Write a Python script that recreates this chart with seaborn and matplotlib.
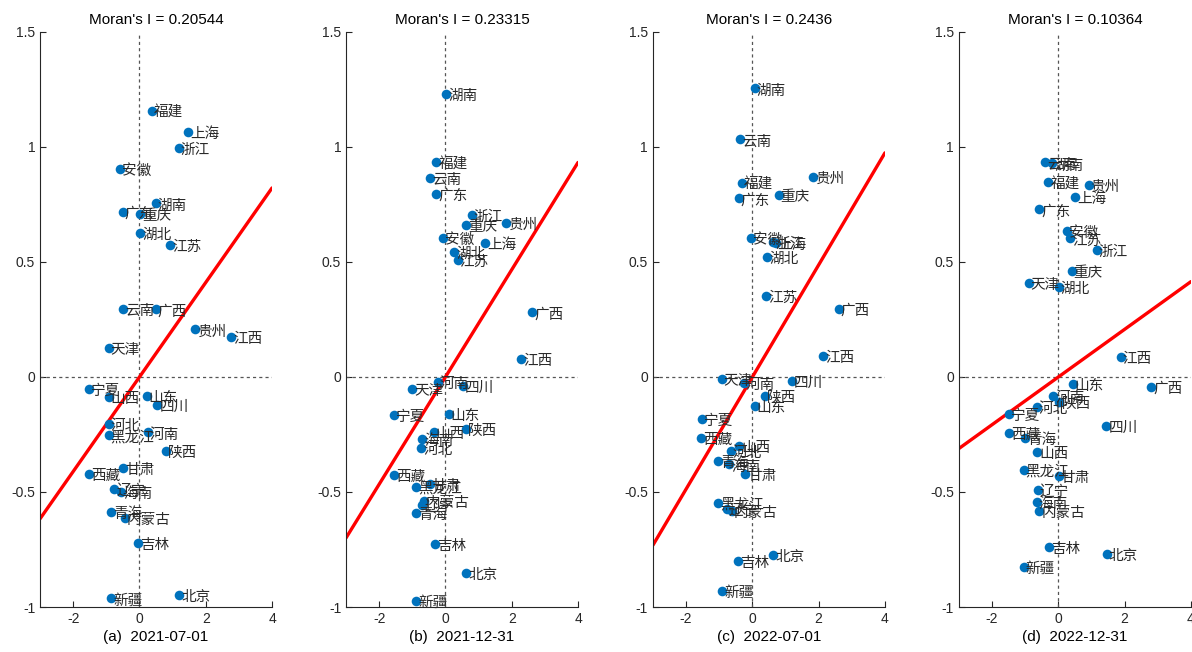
import numpy as np
import matplotlib
matplotlib.use("Agg")
import matplotlib.pyplot as plt
import seaborn as sns

# province order shared by all four panels
provinces = ['北京', '天津', '河北', '山西', '内蒙古', '辽宁', '吉林', '黑龙江', '上海', '江苏',
             '浙江', '安徽', '福建', '江西', '山东', '河南', '湖北', '湖南', '广东', '广西',
             '海南', '重庆', '四川', '贵州', '云南', '西藏', '陕西', '甘肃', '青海', '宁夏', '新疆']

dates = ['2021-07-01', '2021-12-31', '2022-07-01', '2022-12-31']
panel_tags = ['(a)', '(b)', '(c)', '(d)']
moran_i = [0.20544, 0.23315, 0.2436, 0.10364]

# standardized value (x) and spatial lag (y)
x_a = [1.19, -0.93, -0.93, -0.93, -0.45, -0.76, -0.05, -0.93, 1.47, 0.92,
       1.19, -0.60, 0.38, 2.77, 0.22, 0.25, 0.02, 0.49, -0.51, 0.49,
       -0.55, 0.02, 0.54, 1.68, -0.50, -1.52, 0.80, -0.50, -0.86, -1.52, -0.86]
y_a = [-0.946, 0.126, -0.204, -0.087, -0.612, -0.487, -0.723, -0.254, 1.067, 0.575,
       0.997, 0.904, 1.157, 0.173, -0.084, -0.241, 0.627, 0.755, 0.719, 0.294,
       -0.501, 0.707, -0.122, 0.207, 0.296, -0.420, -0.320, -0.396, -0.588, -0.052, -0.962]

x_b = [0.62, -1.00, -0.73, -0.36, -0.65, -0.70, -0.31, -0.88, 1.20, 0.37,
       0.79, -0.08, -0.28, 2.28, 0.10, -0.23, 0.27, 0.02, -0.28, 2.61,
       -0.70, 0.62, 0.52, 1.83, -0.46, -1.56, 0.62, -0.48, -0.90, -1.55, -0.88]
y_b = [-0.853, -0.052, -0.307, -0.238, -0.539, -0.557, -0.727, -0.477, 0.581, 0.509,
       0.704, 0.603, 0.933, 0.078, -0.161, -0.020, 0.545, 1.230, 0.796, 0.281,
       -0.271, 0.661, -0.038, 0.671, 0.867, -0.425, -0.226, -0.464, -0.590, -0.164, -0.974]

x_c = [0.62, -0.93, -0.65, -0.41, -0.62, -0.77, -0.43, -1.03, 0.70, 0.42,
       0.62, -0.05, -0.31, 2.14, 0.07, -0.26, 0.44, 0.07, -0.41, 2.60,
       -0.70, 0.79, 1.19, 1.82, -0.38, -1.55, 0.37, -0.23, -1.03, -1.53, -0.91]
y_c = [-0.774, -0.010, -0.320, -0.299, -0.583, -0.574, -0.800, -0.546, 0.581, 0.354,
       0.588, 0.606, 0.845, 0.093, -0.125, -0.025, 0.523, 1.255, 0.777, 0.296,
       -0.380, 0.791, -0.017, 0.871, 1.033, -0.264, -0.081, -0.423, -0.365, -0.183, -0.929]

x_d = [1.46, -0.90, -0.65, -0.64, -0.57, -0.62, -0.27, -1.05, 0.50, 0.36,
       1.16, 0.26, -0.30, 1.88, 0.43, -0.15, 0.01, -0.19, -0.57, 2.81,
       -0.65, 0.40, 1.45, 0.91, -0.40, -1.50, 0.03, 0.01, -1.00, -1.50, -1.05]
y_d = [-0.770, 0.407, -0.129, -0.325, -0.581, -0.491, -0.738, -0.404, 0.784, 0.603,
       0.552, 0.636, 0.846, 0.088, -0.032, -0.081, 0.393, 0.929, 0.729, -0.042,
       -0.542, 0.462, -0.212, 0.835, 0.933, -0.242, -0.107, -0.429, -0.264, -0.162, -0.825]

xs = [x_a, x_b, x_c, x_d]
ys = [y_a, y_b, y_c, y_d]

sns.set_style("ticks")
plt.rcParams['font.family'] = ['Liberation Sans', 'Noto Sans CJK SC', 'DejaVu Sans']
plt.rcParams['axes.unicode_minus'] = False

fig = plt.figure(figsize=(11.92, 6.52), dpi=100)
lefts = [0.0336, 0.2903, 0.5478, 0.8045]
ink = '#262626'

for k in range(4):
    ax = fig.add_axes([lefts[k], 0.069, 0.1946, 0.882])
    xlim = (-3, 4)
    ax.set_xlim(*xlim)
    ax.set_ylim(-1, 1.5)

    ax.axvline(0, color='#555555', lw=0.9, ls=(0, (2.5, 2.5)), zorder=1)
    ax.axhline(0, color='#555555', lw=0.9, ls=(0, (2.5, 2.5)), zorder=1)

    line_x = np.array(xlim, dtype=float)
    ax.plot(line_x, moran_i[k] * line_x, color='#FF0000', lw=2.4, zorder=2)

    sns.scatterplot(x=xs[k], y=ys[k], ax=ax, color='#0072BD', s=48,
                    linewidth=0, zorder=3, legend=False)
    for name, px, py in zip(provinces, xs[k], ys[k]):
        ax.annotate(name, (px, py), xytext=(1.5, -1.5), textcoords='offset points',
                    ha='left', va='center', fontsize=10.5, color='#2a2a2a',
                    family=['Noto Sans CJK SC'], fontweight='light', zorder=4)

    ax.set_xticks([-2, 0, 2, 4])
    ax.set_yticks([-1, -0.5, 0, 0.5, 1, 1.5])
    ax.set_yticklabels(['-1', '-0.5', '0', '0.5', '1', '1.5'])
    ax.tick_params(direction='in', length=4, width=0.8, colors=ink, labelsize=10)
    for s in ['top', 'right']:
        ax.spines[s].set_visible(False)
    for s in ['left', 'bottom']:
        ax.spines[s].set_color(ink)
        ax.spines[s].set_linewidth(0.8)

    ax.set_title(f"Moran's I = {moran_i[k]}", fontsize=11, color='black', pad=6)
    ax.set_xlabel(f"{panel_tags[k]}  {dates[k]}", fontsize=11, color='black', labelpad=3)
    ax.set_ylabel('')

fig.savefig('out.png', dpi=100)
